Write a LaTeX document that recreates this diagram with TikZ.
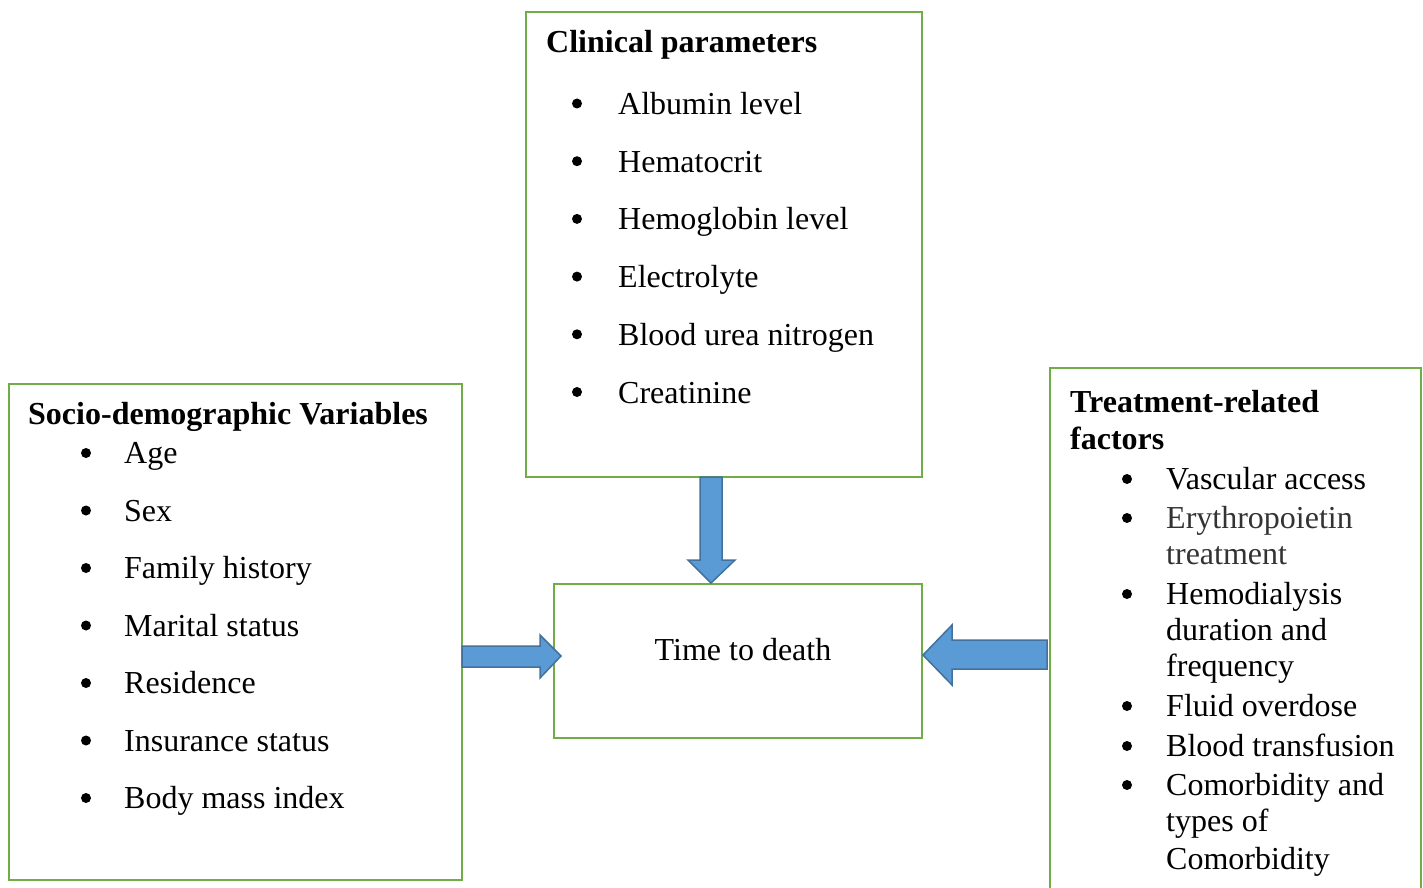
\documentclass[tikz,border=0pt]{standalone}
\usepackage{fontspec}
\setmainfont{Liberation Serif}
\definecolor{boxgreen}{HTML}{70AD47}
\definecolor{arrfill}{HTML}{5B9BD5}
\definecolor{arrdraw}{HTML}{41719C}
\newcommand{\fsz}{\fontsize{32}{37}\selectfont}
\begin{document}
\begin{tikzpicture}[x=1pt,y=-1pt,
  framebox/.style={draw=boxgreen, line width=2.4pt, anchor=north west, inner sep=0pt},
  item/.style={anchor=base west, inner sep=0pt, font=\fsz},
  head/.style={anchor=base west, inner sep=0pt, font=\fsz\bfseries},
  bul/.style={circle, fill=black, inner sep=0pt, minimum size=10pt},
  blockarrow/.style={fill=arrfill, draw=arrdraw, line width=1.5pt, line join=miter}]
\useasboundingbox (0,0) rectangle (1423,888);
\clip (0,0) rectangle (1423,888);
% boxes
\node[framebox, minimum width=396pt, minimum height=465pt] (clin) at (525,11) {};
\node[framebox, minimum width=453pt, minimum height=496pt] (socio) at (8,383) {};
\node[framebox, minimum width=371pt, minimum height=540pt] (treat) at (1049,367) {};
\node[framebox, minimum width=368pt, minimum height=154pt] (ttd) at (553,583) {};
\node[anchor=base, inner sep=0pt, font=\fsz] (ttdt) at (743,660) {Time to death};
% clinical
\node[head] (clinh) at (546,52.5) {Clinical parameters};
\foreach \t [count=\i] in {Albumin level,Hematocrit,Hemoglobin level,Electrolyte,Blood urea nitrogen,Creatinine}{
  \node[item] (ci\i) at (618,{114.5+57.7*(\i-1)}) {\t};
  \node[bul] (cb\i) at (577,{103.5+57.7*(\i-1)}) {};
}
% socio
\node[head] (socioh) at (28,424) {Socio-demographic Variables};
\foreach \t [count=\i] in {Age,Sex,Family history,Marital status,Residence,Insurance status,Body mass index}{
  \node[item] (si\i) at (124,{463.5+57.5*(\i-1)}) {\t};
  \node[bul] (sb\i) at (86,{453+57.5*(\i-1)}) {};
}
% treatment
\node[head] (treath1) at (1070,412) {Treatment-related};
\node[head] (treath2) at (1070,449) {factors};
\node[item] (ti1) at (1166,489) {Vascular access};
\node[item, text=black!80] (ti2) at (1166,528) {Erythropoietin};
\node[item, text=black!80] (ti2b) at (1166,564) {treatment};
\node[item] (ti3) at (1166,604) {Hemodialysis};
\node[item] (ti3b) at (1166,640) {duration and};
\node[item] (ti3c) at (1166,676) {frequency};
\node[item] (ti4) at (1166,716) {Fluid overdose};
\node[item] (ti5) at (1166,756) {Blood transfusion};
\node[item] (ti6) at (1166,795) {Comorbidity and};
\node[item] (ti6b) at (1166,831) {types of};
\node[item] (ti6c) at (1166,869) {Comorbidity};
\node[bul] (tb1) at (1127,479) {};
\node[bul] (tb2) at (1127,518) {};
\node[bul] (tb3) at (1127,594) {};
\node[bul] (tb4) at (1127,706) {};
\node[bul] (tb5) at (1127,746) {};
\node[bul] (tb6) at (1127,785) {};
% block arrows
\draw[blockarrow] (700,477) -- (700,560) -- (688,560) -- (711,583) -- (735,560) -- (722,560) -- (722,477) -- cycle;
\draw[blockarrow] (462,646) -- (540,646) -- (540,635) -- (561,656) -- (540,678) -- (540,667) -- (462,667) -- cycle;
\draw[blockarrow] (1047,640) -- (952,640) -- (952,625) -- (923,655) -- (952,685) -- (952,669) -- (1047,669) -- cycle;
\end{tikzpicture}
\end{document}
